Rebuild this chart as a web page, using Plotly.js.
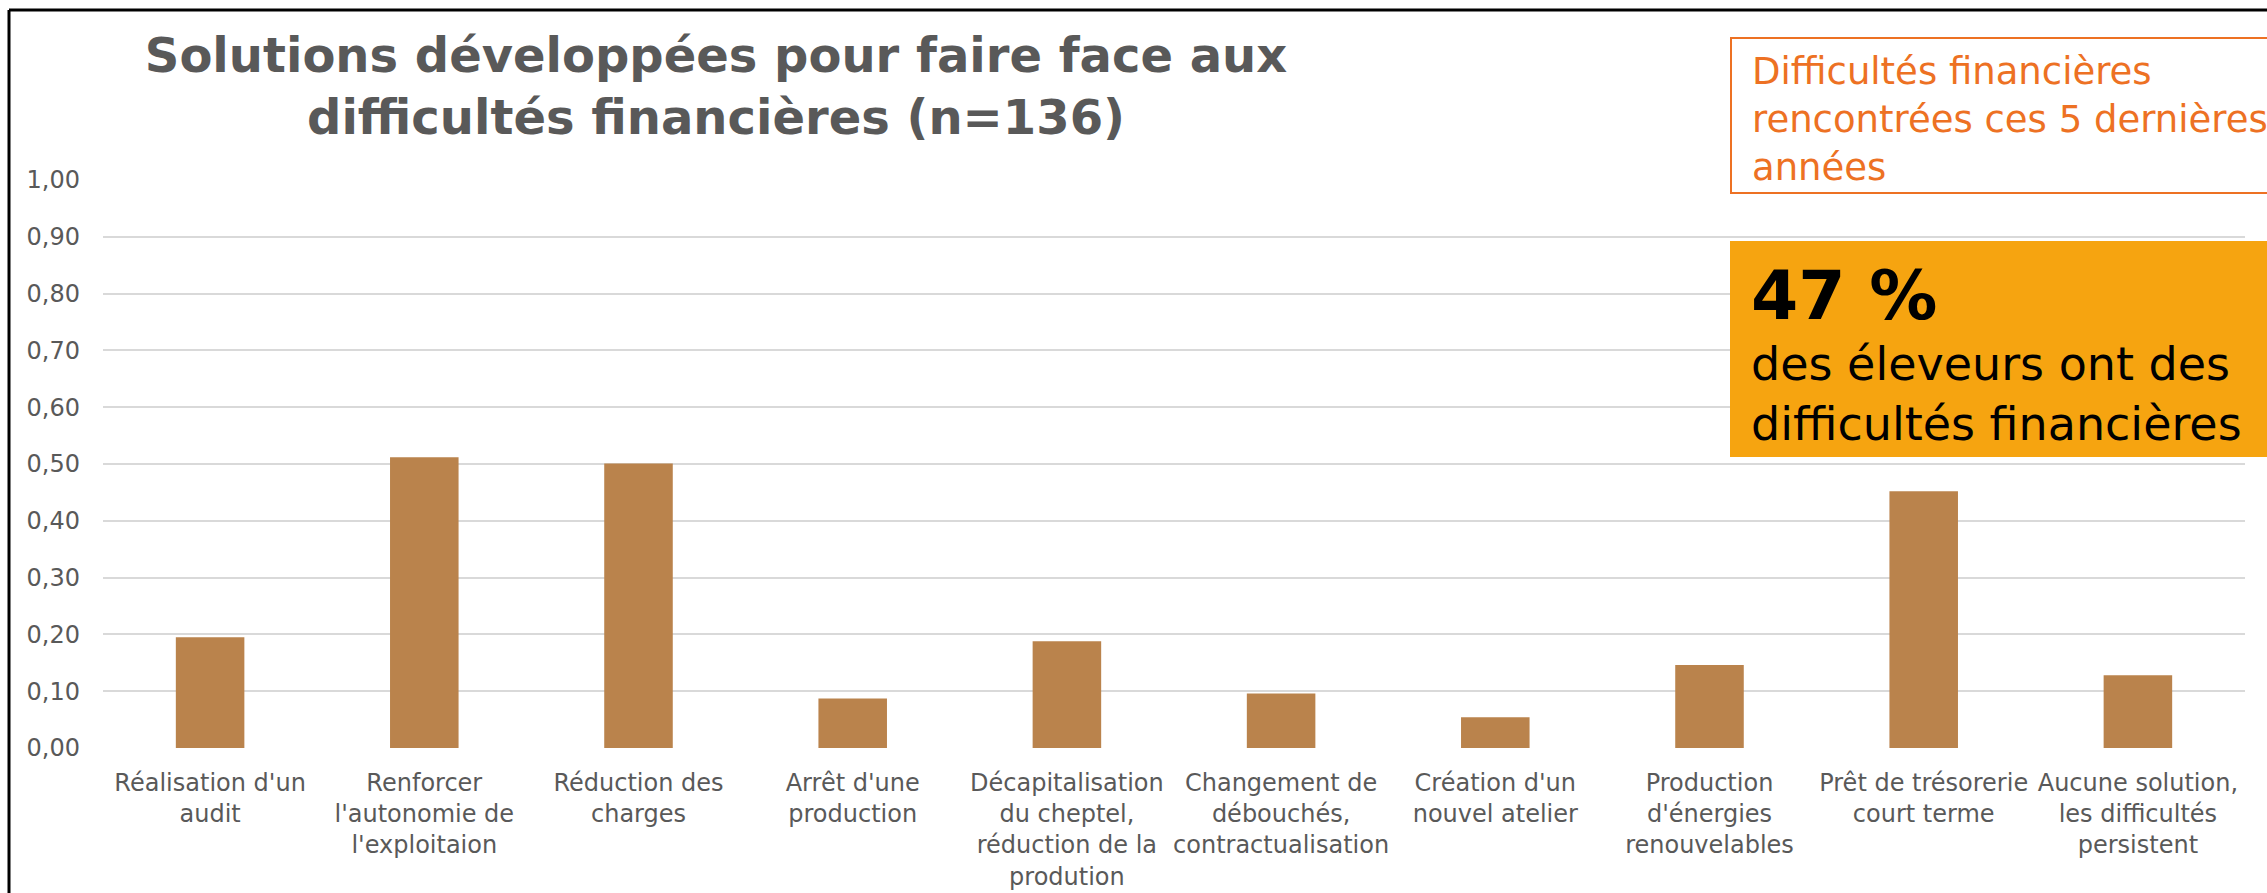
<!DOCTYPE html>
<html>
<head>
<meta charset="utf-8">
<script src="https://cdn.plot.ly/plotly-3.0.1.min.js"></script>
<style>
  body { margin: 0; background: #fff; }
  #chart { width: 2267px; height: 893px; }
</style>
</head>
<body>
<div id="chart"></div>
<script>
// Données du graphique
var categories = ["Réalisation d'un audit", "Renforcer l'autonomie de l'exploitaion", "Réduction des charges",
  "Arrêt d'une production", "Décapitalisation du cheptel, réduction de la prodution",
  "Changement de débouchés, contractualisation", "Création d'un nouvel atelier",
  "Production d'énergies renouvelables", "Prêt de trésorerie court terme",
  "Aucune solution, les difficultés persistent"];
var valeurs = [0.195, 0.512, 0.501, 0.087, 0.188, 0.096, 0.054, 0.146, 0.452, 0.128];
var etiquettes = ["Réalisation d'un<br>audit", "Renforcer<br>l'autonomie de<br>l'exploitaion", "Réduction des<br>charges",
  "Arrêt d'une<br>production", "Décapitalisation<br>du cheptel,<br>réduction de la<br>prodution",
  "Changement de<br>débouchés,<br>contractualisation", "Création d'un<br>nouvel atelier",
  "Production<br>d'énergies<br>renouvelables", "Prêt de trésorerie<br>court terme",
  "Aucune solution,<br>les difficultés<br>persistent"];
var ticksY = [0, 0.1, 0.2, 0.3, 0.4, 0.5, 0.6, 0.7, 0.8, 0.9, 1.0];

var titre = "Solutions développées pour faire face aux<br>difficultés financières (n=136)";
var encadre = "Difficultés financières<br>rencontrées ces 5 dernières<br>années";
var chiffre = "47 %";
var phrase = "des éleveurs ont des<br>difficultés financières";

// zone de tracé en pixels
var L = 103, R = 22, T = 180, B = 145;
var W = 2267, H = 893;
function fx(px) { return (px - L) / (W - L - R); }
function fy(py) { return (H - B - py) / (H - T - B); }

var gris = '#595959';
var police = 'DejaVu Sans, Verdana, sans-serif';

var traceA = {
  x: categories,
  y: valeurs,
  type: 'bar',
  marker: { color: '#BA834C' },
  hoverinfo: 'x+y'
};

var layout = {
  width: W,
  height: H,
  margin: { l: L, r: R, t: T, b: B },
  paper_bgcolor: '#fff',
  plot_bgcolor: '#fff',
  separators: ', ',
  bargap: 0.68,
  showlegend: false,
  font: { family: police, color: gris, size: 24 },
  title: {
    text: titre,
    font: { family: police, size: 48, color: gris, weight: 'bold' },
    xref: 'container', x: 716 / W, xanchor: 'center',
    yref: 'container', y: 1 - 72 / H, yanchor: 'top'
  },
  xaxis: {
    type: 'category',
    tickvals: categories,
    ticktext: etiquettes,
    tickangle: 0,
    ticks: '',
    showgrid: false,
    showline: false,
    zeroline: false,
    ticklabelstandoff: 18,
    tickfont: { size: 24, color: gris }
  },
  yaxis: {
    range: [0, 1],
    tickvals: ticksY,
    tickformat: '.2f',
    ticks: '',
    showline: false,
    zeroline: false,
    gridcolor: '#D9D9D9',
    gridwidth: 2,
    ticklabelstandoff: 22,
    tickfont: { size: 24, color: gris }
  },
  shapes: [
    // cadre noir
    { type: 'line', xref: 'paper', yref: 'paper', x0: fx(9), x1: fx(2300), y0: fy(10), y1: fy(10),
      line: { color: '#000', width: 3 } },
    { type: 'line', xref: 'paper', yref: 'paper', x0: fx(9), x1: fx(9), y0: fy(10), y1: fy(900),
      line: { color: '#000', width: 3 } },
    // encadré orange
    { type: 'rect', xref: 'paper', yref: 'paper', layer: 'above',
      x0: fx(1731), x1: fx(2300), y0: fy(193), y1: fy(38),
      fillcolor: '#fff', line: { color: '#ED7123', width: 2 } },
    // bloc 47 %
    { type: 'rect', xref: 'paper', yref: 'paper', layer: 'above',
      x0: fx(1730), x1: fx(2300), y0: fy(457), y1: fy(241),
      fillcolor: '#F6A410', line: { width: 0 } }
  ],
  annotations: [
    { text: encadre, xref: 'paper', yref: 'paper', x: fx(1750), y: fy(48),
      xanchor: 'left', yanchor: 'top', align: 'left', showarrow: false,
      font: { family: police, size: 37, color: '#ED7123' } },
    { text: chiffre, xref: 'paper', yref: 'paper', x: fx(1749), y: fy(254),
      xanchor: 'left', yanchor: 'top', align: 'left', showarrow: false,
      font: { family: police, size: 68, color: '#000', weight: 'bold' } },
    { text: phrase, xref: 'paper', yref: 'paper', x: fx(1749), y: fy(335),
      xanchor: 'left', yanchor: 'top', align: 'left', showarrow: false,
      font: { family: police, size: 46, color: '#000' } }
  ]
};

Plotly.newPlot('chart', [traceA], layout, { displayModeBar: false, staticPlot: true });
</script>
</body>
</html>
